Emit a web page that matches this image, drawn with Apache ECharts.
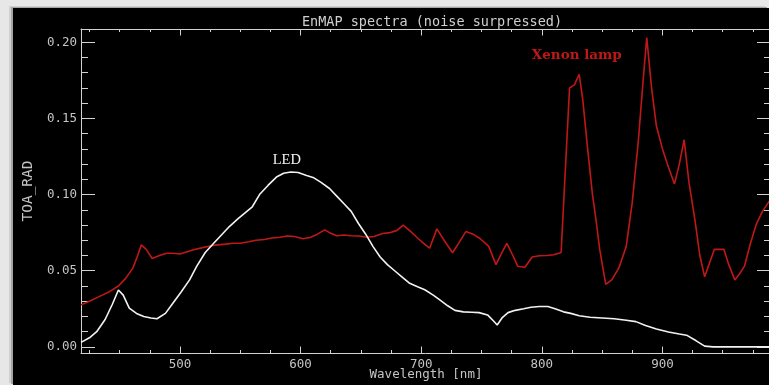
<!DOCTYPE html>
<html>
<head>
<meta charset="utf-8">
<script src="https://cdn.jsdelivr.net/npm/echarts@6/dist/echarts.min.js"></script>
<style>
  html, body { margin: 0; padding: 0; background: #e7e7e7; }
  #frame {
    position: absolute; left: 13px; top: 8px; width: 756px; height: 377px;
    background: #000;
    box-shadow: -2px -1px 0 #a4a4a4, -4px -2px 0 #cfcfcf;
  }
  #chart { position: absolute; left: 0; top: 0; width: 769px; height: 385px; }
</style>
</head>
<body>
<div id="frame"></div>
<div id="chart"></div>
<script>
// LED spectrum (white)
const ledWavelength = [
  418, 425, 431, 438, 444, 449, 453, 458, 464, 470, 476, 481, 488, 494, 501,
  508, 514, 521, 528, 535, 541, 548, 554, 560, 566, 573, 580, 586, 592, 598,
  605, 611, 617, 624, 630, 636, 642, 648, 654, 660, 666, 672, 678, 684, 690,
  697, 703, 710, 716, 722, 728, 735, 742, 748, 755, 760, 763, 767, 772, 778,
  785, 791, 798, 805, 811, 818, 824, 831, 840, 850, 860, 870, 878, 886, 895,
  905, 914, 920, 928, 935, 942, 950, 970, 990
];
const ledRadiance = [
  0.003, 0.006, 0.010, 0.018, 0.028, 0.0374, 0.034, 0.0255, 0.022, 0.020, 0.019, 0.0185, 0.022, 0.0285, 0.036,
  0.044, 0.053, 0.062, 0.068, 0.074, 0.079, 0.084, 0.088, 0.092, 0.100, 0.106, 0.1115, 0.1140, 0.1148, 0.1145,
  0.1125, 0.111, 0.108, 0.104, 0.099, 0.094, 0.089, 0.081, 0.074, 0.066, 0.059, 0.054, 0.050, 0.046, 0.042,
  0.0395, 0.0375, 0.034, 0.0305, 0.027, 0.024, 0.023, 0.0228, 0.0225, 0.021, 0.017, 0.0144, 0.019, 0.0225, 0.024,
  0.025, 0.026, 0.0265, 0.0265, 0.025, 0.023, 0.022, 0.0205, 0.0195, 0.019, 0.0185, 0.0175, 0.0166, 0.014, 0.0118,
  0.0098, 0.0085, 0.0077, 0.004, 0.0005, 0.0, 0.0, 0.0, 0.0
];

// Xenon lamp spectrum (red)
const xenonWavelength = [
  418, 425, 433, 441, 449, 455, 461, 465, 468, 472, 477, 483, 489, 495, 500,
  506, 512, 518, 525, 531, 538, 544, 550, 557, 563, 570, 576, 583, 589, 595,
  602, 608, 614, 620, 624, 630, 636, 642, 648, 655, 661, 668, 674, 680, 685,
  691, 697, 702, 707, 713, 719, 726, 731, 737, 743, 749, 756, 762, 767, 771,
  776, 780, 786, 792, 798, 804, 810, 816, 823, 827, 831, 834, 838, 842, 845,
  848, 853, 858, 864, 870, 875, 880, 884, 887, 891, 895, 900, 905, 910, 914,
  918, 922, 927, 931, 935, 939, 943, 951, 955, 960, 964, 968, 973, 978, 983,
  988, 990
];
const xenonRadiance = [
  0.0276, 0.030, 0.033, 0.036, 0.040, 0.045, 0.0517, 0.060, 0.067, 0.064, 0.058, 0.060, 0.0615, 0.0615, 0.061,
  0.0625, 0.064, 0.065, 0.0662, 0.067, 0.0675, 0.068, 0.068, 0.069, 0.070, 0.0705, 0.0715, 0.072, 0.0728, 0.0725,
  0.071, 0.0718, 0.074, 0.0768, 0.075, 0.073, 0.0735, 0.073, 0.0728, 0.072, 0.0725, 0.0745, 0.075, 0.0765, 0.080,
  0.076, 0.0715, 0.068, 0.0648, 0.0775, 0.070, 0.0618, 0.068, 0.0757, 0.074, 0.071, 0.066, 0.054, 0.062, 0.068,
  0.060, 0.053, 0.0523, 0.059, 0.0598, 0.060, 0.0605, 0.062, 0.170, 0.172, 0.179, 0.162, 0.130, 0.100, 0.083,
  0.064, 0.041, 0.044, 0.052, 0.066, 0.095, 0.135, 0.175, 0.203, 0.170, 0.145, 0.130, 0.118, 0.107, 0.120,
  0.136, 0.108, 0.083, 0.060, 0.046, 0.055, 0.064, 0.064, 0.054, 0.044, 0.048, 0.053, 0.068, 0.081, 0.089,
  0.095, 0.097
];

// Axis ranges and tick settings
const xRange = [418, 990];
const yRange = [-0.004, 0.2087];
const xMajorStep = 100;
const yMajorStep = 0.05;

// Series label anchors (wavelength, radiance)
const ledLabelAt = [588.6, 0.1228];
const xenonLabelAt = [829, 0.1915];

const axisColor = '#d2d2d2';
const labelFont = 'DejaVu Sans Mono';

function pairs(xs, ys) { return xs.map((x, i) => [x, ys[i]]); }

function xAxisDef(pos, showLabels) {
  return {
    type: 'value', position: pos, min: xRange[0], max: xRange[1],
    minInterval: xMajorStep, maxInterval: xMajorStep,
    axisLine: { show: true, onZero: false, lineStyle: { color: axisColor, width: 1 } },
    axisTick: { show: true, inside: true, length: 6.5, lineStyle: { color: axisColor } },
    minorTick: { show: true, splitNumber: 4, length: 3, lineStyle: { color: axisColor } },
    splitLine: { show: false },
    axisLabel: {
      show: showLabels, color: '#c4c4c4', fontFamily: labelFont, fontSize: 12.5, margin: 5,
      showMinLabel: false, showMaxLabel: false
    },
    name: showLabels ? 'Wavelength [nm]' : '',
    nameLocation: 'middle', nameGap: 15, nameMoveOverlap: false,
    nameTextStyle: { color: '#c4c4c4', fontFamily: labelFont, fontSize: 12.5 }
  };
}

function yAxisDef(pos, showLabels) {
  return {
    type: 'value', position: pos, min: yRange[0], max: yRange[1],
    minInterval: yMajorStep, maxInterval: yMajorStep,
    axisLine: { show: true, onZero: false, lineStyle: { color: axisColor, width: 1 } },
    axisTick: { show: true, inside: true, length: 14, lineStyle: { color: axisColor } },
    minorTick: { show: true, splitNumber: 5, length: 7, lineStyle: { color: axisColor } },
    splitLine: { show: false },
    axisLabel: {
      show: showLabels, color: '#c4c4c4', fontFamily: labelFont, fontSize: 12.5, margin: 4,
      showMinLabel: false, showMaxLabel: false,
      formatter: v => v.toFixed(2)
    },
    name: showLabels ? 'TOA_RAD' : '',
    nameLocation: 'middle', nameRotate: 90, nameGap: 42,
    nameTextStyle: { color: '#c4c4c4', fontFamily: labelFont, fontSize: 14.5 }
  };
}

const chart = echarts.init(document.getElementById('chart'), null, { renderer: 'canvas' });
chart.setOption({
  animation: false,
  backgroundColor: 'transparent',
  title: {
    text: 'EnMAP spectra (noise surpressed)',
    left: 427, top: 10, textAlign: 'center',
    textStyle: { color: '#cfcfcf', fontFamily: labelFont, fontSize: 13.5, fontWeight: 'normal' }
  },
  grid: {
    left: 81, top: 29, width: 690, height: 324,
    containLabel: false, outerBoundsMode: 'none'
  },
  xAxis: [xAxisDef('bottom', true), xAxisDef('top', false)],
  yAxis: [yAxisDef('left', true), yAxisDef('right', false)],
  series: [
    {
      name: 'Xenon lamp', type: 'line', xAxisIndex: 0, yAxisIndex: 0,
      data: pairs(xenonWavelength, xenonRadiance),
      showSymbol: false, clip: true,
      lineStyle: { color: '#c01818', width: 1.6 },
      markPoint: {
        symbol: 'circle', symbolSize: 0,
        data: [{ coord: xenonLabelAt }],
        label: {
          show: true, position: 'inside', formatter: 'Xenon lamp',
          color: '#c01818', fontFamily: 'DejaVu Serif', fontWeight: 'bold',
          fontSize: 13.5
        }
      }
    },
    {
      name: 'LED', type: 'line', xAxisIndex: 0, yAxisIndex: 0,
      data: pairs(ledWavelength, ledRadiance),
      showSymbol: false, clip: true,
      lineStyle: { color: '#f2f2f2', width: 1.6 },
      markPoint: {
        symbol: 'circle', symbolSize: 0,
        data: [{ coord: ledLabelAt }],
        label: {
          show: true, position: 'inside', formatter: 'LED',
          color: '#f4f4f4', fontFamily: 'Liberation Serif', fontSize: 14.5
        }
      }
    }
  ]
});
</script>
</body>
</html>
